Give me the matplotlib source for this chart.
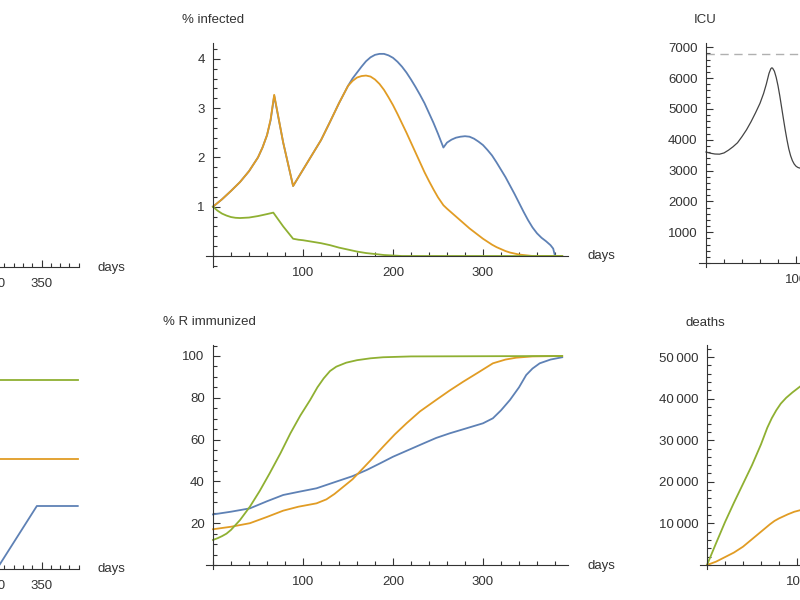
import numpy as np
import matplotlib.pyplot as plt
from matplotlib.ticker import FixedLocator, MultipleLocator, FuncFormatter

plt.rcParams['font.family'] = ['Liberation Sans', 'DejaVu Sans']

W, H = 800, 600
BLUE, ORANGE, GREEN = '#5E81B5', '#E19C24', '#8FB032'
AXC = '#333333'

# % infected
inf_blue_days = [0, 10, 20, 30, 40, 50, 55, 60, 64, 68, 78, 89, 95, 100, 110, 120, 130, 140, 150, 155, 160,
                 165, 170, 175, 180, 185, 190, 195, 200, 205, 210, 215, 220, 225, 230, 235, 240, 245, 250,
                 256, 260, 265, 270, 275, 280, 285, 290, 295, 300, 305, 310, 315, 320, 325, 330, 335, 340,
                 345, 350, 355, 360, 365, 370, 375, 378, 380, 388]
inf_blue = [1.0, 1.15, 1.32, 1.5, 1.72, 2.0, 2.2, 2.45, 2.75, 3.25, 2.3, 1.42, 1.6, 1.75, 2.05, 2.35, 2.72,
            3.1, 3.45, 3.6, 3.72, 3.84, 3.95, 4.03, 4.08, 4.1, 4.1, 4.07, 4.02, 3.94, 3.84, 3.72, 3.58,
            3.43, 3.27, 3.1, 2.9, 2.7, 2.48, 2.2, 2.3, 2.36, 2.4, 2.42, 2.43, 2.42, 2.38, 2.32, 2.25, 2.15,
            2.04, 1.9, 1.75, 1.6, 1.43, 1.26, 1.08, 0.9, 0.73, 0.58, 0.46, 0.37, 0.3, 0.22, 0.15, 0.0, 0.0]
inf_orange_days = [0, 10, 20, 30, 40, 50, 55, 60, 64, 68, 78, 89, 95, 100, 110, 120, 130, 140, 150, 155,
                   160, 165, 170, 175, 180, 185, 190, 195, 200, 205, 210, 215, 220, 225, 230, 235, 240,
                   245, 250, 256, 260, 265, 270, 275, 280, 285, 290, 295, 300, 305, 310, 315, 320, 325,
                   330, 335, 340, 345, 350, 355, 388]
inf_orange = [1.0, 1.15, 1.32, 1.5, 1.72, 2.0, 2.2, 2.45, 2.77, 3.27, 2.3, 1.42, 1.6, 1.75, 2.05, 2.35,
              2.72, 3.1, 3.45, 3.55, 3.62, 3.65, 3.66, 3.64, 3.58, 3.49, 3.37, 3.22, 3.06, 2.88, 2.69,
              2.5, 2.3, 2.1, 1.9, 1.7, 1.52, 1.35, 1.19, 1.03, 0.96, 0.88, 0.8, 0.72, 0.64, 0.56, 0.49,
              0.42, 0.35, 0.29, 0.23, 0.18, 0.14, 0.1, 0.07, 0.05, 0.03, 0.02, 0.01, 0.0, 0.0]
inf_green_days = [0, 5, 10, 15, 20, 25, 30, 40, 50, 60, 67, 78, 89, 95, 100, 110, 120, 130, 140, 150, 160,
                  170, 180, 190, 200, 210, 388]
inf_green = [1.0, 0.92, 0.86, 0.82, 0.79, 0.775, 0.77, 0.78, 0.81, 0.85, 0.88, 0.6, 0.35, 0.33, 0.32,
             0.29, 0.26, 0.22, 0.17, 0.13, 0.09, 0.06, 0.04, 0.02, 0.01, 0.0, 0.0]

# ICU
icu_days = [0, 5, 10, 15, 20, 25, 30, 35, 40, 45, 50, 55, 60, 64, 67, 70, 72, 73, 74, 76, 78, 80, 82, 84,
            86, 88, 90, 92, 94, 96, 98, 100, 102, 104, 106, 108]
icu = [3600, 3560, 3535, 3530, 3570, 3660, 3770, 3900, 4100, 4320, 4580, 4870, 5180, 5500, 5800, 6150,
       6300, 6330, 6320, 6220, 6020, 5750, 5420, 5050, 4680, 4320, 3990, 3700, 3480, 3320, 3210, 3140,
       3100, 3080, 3085, 3110]
icu_capacity = 6770

# % R immunized
imm_blue_days = [0, 20, 41, 60, 78, 95, 115, 137, 155, 171, 185, 200, 217, 234, 248, 263, 280, 300, 311,
                 320, 330, 340, 348, 355, 363, 375, 388]
imm_blue = [24.2, 25.5, 27.1, 30.5, 33.5, 35.0, 36.7, 39.9, 42.5, 45.5, 48.5, 51.8, 55.0, 58.2, 60.8,
            63.0, 65.2, 67.8, 70.2, 74.0, 79.0, 85.0, 90.9, 94.0, 96.5, 98.3, 99.4]
imm_orange_days = [0, 20, 41, 60, 78, 95, 115, 126, 135, 145, 155, 163, 176, 189, 202, 215, 230, 248, 263,
                   278, 295, 311, 325, 337, 355, 388]
imm_orange = [17.1, 18.3, 20.0, 23.0, 26.0, 27.9, 29.5, 31.4, 34.0, 37.5, 41.0, 44.6, 50.5, 56.6, 62.5,
              67.8, 73.5, 79.0, 83.5, 87.7, 92.2, 96.5, 98.3, 99.2, 99.8, 100.0]
imm_green_days = [0, 5, 10, 15, 20, 30, 41, 52, 63, 75, 86, 97, 108, 116, 123, 130, 137, 148, 160, 175,
                  189, 220, 388]
imm_green = [12.0, 12.8, 13.8, 15.0, 16.8, 21.5, 27.9, 35.5, 43.9, 53.5, 63.0, 71.5, 79.0, 85.0, 89.3,
             92.8, 94.9, 96.8, 98.0, 98.9, 99.4, 99.8, 100.0]

# deaths
d_green_days = [0, 10, 20, 30, 40, 50, 60, 67, 72, 77, 82, 88, 95, 104]
d_green = [0, 5200, 10300, 15000, 19500, 24000, 29000, 33000, 35300, 37200, 38800, 40200, 41500, 43000]
d_orange_days = [0, 10, 20, 30, 40, 50, 60, 65, 70, 75, 80, 85, 90, 97, 104]
d_orange = [0, 800, 1900, 3000, 4400, 6200, 8000, 8900, 9800, 10600, 11200, 11700, 12200, 12800, 13200]

# left bottom panel
lb_days = [300, 302, 345, 389]
lb_blue = [0.0, 0.0, 0.2, 0.2]
lb_orange = [0.35, 0.35, 0.35, 0.35]
lb_green = [0.6, 0.6, 0.6, 0.6]

fig = plt.figure(figsize=(8, 6), dpi=100)


def panel(ox, oy, sx, sy, xlim, ylim):
    # place an axes so that data origin lands on pixel (ox, oy)
    l = ox + xlim[0] * sx
    r = ox + xlim[1] * sx
    t = oy - ylim[1] * sy
    b = oy - ylim[0] * sy
    ax = fig.add_axes([l / W, 1 - b / H, (r - l) / W, (b - t) / H])
    ax.set_xlim(*xlim)
    ax.set_ylim(*ylim)
    ax.patch.set_alpha(0)
    for s in ['top', 'right']:
        ax.spines[s].set_visible(False)
    for s in ['left', 'bottom']:
        ax.spines[s].set_position(('data', 0))
        ax.spines[s].set_color(AXC)
        ax.spines[s].set_linewidth(0.8)
    ax.tick_params(which='both', direction='in', color=AXC, width=0.8, labelsize=9.5,
                   labelcolor=AXC, pad=6)
    ax.tick_params(axis='x', which='both', pad=8)
    ax.tick_params(which='major', length=5)
    ax.tick_params(which='minor', length=3)
    return ax


def ticks(ax, xmaj, xmin, ymaj=None, ymin=None, yfmt=None):
    ax.xaxis.set_major_locator(FixedLocator(xmaj))
    ax.xaxis.set_minor_locator(MultipleLocator(xmin))
    ax.xaxis.set_major_formatter(FuncFormatter(lambda v, p: f'{v:g}'))
    if ymaj is None:
        ax.set_yticks([])
    else:
        ax.yaxis.set_major_locator(FixedLocator(ymaj))
        ax.yaxis.set_minor_locator(MultipleLocator(ymin))
        ax.yaxis.set_major_formatter(FuncFormatter(yfmt or (lambda v, p: f'{v:g}')))


def label(px, py, s, ha='left'):
    fig.text(px / W, 1 - py / H, s, ha=ha, va='center', fontsize=9.5, color=AXC)


lw = 1.3
kw = dict(lw=lw, solid_joinstyle='round')

# top left (empty region, only axis visible)
ax = panel(-284, 267, 0.93, 300, (-8, 390), (-0.05, 0.9))
ticks(ax, [300, 350], 10)
label(97, 268, 'days')

# bottom left
ax = panel(-284, 569, 0.93, 315, (-8, 390), (-0.05, 0.9))
ticks(ax, [300, 350], 10)
ax.plot(lb_days, lb_blue, color=BLUE, **kw)
ax.plot(lb_days, lb_orange, color=ORANGE, **kw)
ax.plot(lb_days, lb_green, color=GREEN, **kw)
label(97, 569, 'days')

# % infected
ax = panel(213, 256, 0.9, 49.3, (-8, 394), (-0.22, 4.32))
ticks(ax, [100, 200, 300], 20, [1, 2, 3, 4], 0.2)
ax.plot(inf_blue_days, inf_blue, color=BLUE, **kw)
ax.plot(inf_orange_days, inf_orange, color=ORANGE, **kw)
ax.plot(inf_green_days, inf_green, color=GREEN, **kw)
label(182, 20, '% infected')
label(588, 256, 'days')

# ICU
ax = panel(706, 263, 0.9, 0.03083, (-8, 394), (-130, 7135))
ticks(ax, [100, 200, 300], 20, list(range(1000, 8000, 1000)), 200)
ax.plot(icu_days, icu, color='#444444', lw=0.9, solid_joinstyle='round')
ax.axhline(icu_capacity, xmin=8 / 402, color='#b0b0b0', lw=1.0, dashes=(6, 4))
label(705, 20, 'ICU', ha='center')

# % R immunized
ax = panel(213, 565, 0.9, 2.09, (-8, 394), (-2, 105.3))
ticks(ax, [100, 200, 300], 20, [20, 40, 60, 80, 100], 5)
ax.plot(imm_blue_days, imm_blue, color=BLUE, **kw)
ax.plot(imm_orange_days, imm_orange, color=ORANGE, **kw)
ax.plot(imm_green_days, imm_green, color=GREEN, **kw)
label(163, 322, '% R immunized')
label(588, 566, 'days')

# deaths
ax = panel(707, 565, 0.9, 0.00416, (-8, 394), (-900, 52900))
ticks(ax, [100, 200, 300], 20, [10000, 20000, 30000, 40000, 50000], 2000,
      lambda v, p: f'{int(v):,}'.replace(',', '\u2009'))
ax.plot(d_orange_days, d_orange, color=ORANGE, **kw)
ax.plot(d_green_days, d_green, color=GREEN, **kw)
label(705, 323, 'deaths', ha='center')

fig.savefig('out.png', dpi=100)
